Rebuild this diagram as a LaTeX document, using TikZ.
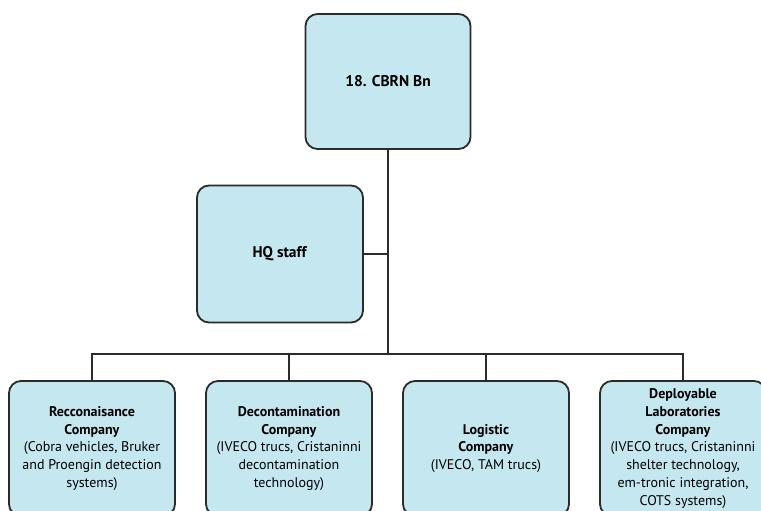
\documentclass[tikz,border=0pt]{standalone}
\usepackage{fontspec}
\setmainfont{PT Sans}
\definecolor{boxfill}{HTML}{C5E7F0}
\definecolor{boxline}{HTML}{2B2B2B}
\begin{document}
\begin{tikzpicture}[x=1pt,y=-1pt,
 box/.style={draw=boxline, line width=1.8pt, fill=boxfill, rounded corners=12pt,
   minimum width=166pt, align=center, inner sep=0pt,
   font=\fontsize{14}{17.7}\selectfont},
 big/.style={font=\fontsize{15.5}{18}\selectfont},
 conn/.style={draw=boxline, line width=2pt}]
\useasboundingbox (0,0) rectangle (761,511);
\fill[white] (0,0) rectangle (761,511);
\clip (0,0) rectangle (761,511);
\node[box, big, minimum width=165pt, minimum height=135pt] (top) at (388,81.5) {\textbf{18. CBRN Bn}};
\node[box, big, minimum width=166pt, minimum height=137pt] (hq) at (280,254) {\textbf{HQ staff}};
\node[box, minimum height=135pt] (rc) at (92,448.5) {\textbf{Recconaisance}\\\textbf{Company}\\(Cobra vehicles, Bruker\\and Proengin detection\\systems)};
\node[box, minimum height=135pt] (dc) at (289,448.5) {\textbf{Decontamination}\\\textbf{Company}\\(IVECO trucs, Cristaninni\\decontamination\\technology)};
\node[box, minimum height=135pt] (lc) at (486,448.5) {\textbf{Logistic}\\\textbf{Company}\\(IVECO, TAM trucs)};
\node[box, minimum height=135pt] (dl) at (683,448.5) {\textbf{Deployable}\\\textbf{Laboratories}\\\textbf{Company}\\(IVECO trucs, Cristaninni\\shelter technology,\\em-tronic integration,\\COTS systems)};
\coordinate (busl) at (92,354);
\coordinate (busr) at (683,354);
\coordinate (bus) at (388,354);
\coordinate (hqj) at (388,254);
\draw[conn] (top.south) -- (bus);
\draw[conn] (hq.east) -- (hqj);
\draw[conn, line cap=rect] (busl) -- (busr);
\draw[conn] (busl) -- (rc.north);
\draw[conn] (dc.north |- bus) -- (dc.north);
\draw[conn] (lc.north |- bus) -- (lc.north);
\draw[conn] (busr) -- (dl.north);
\end{tikzpicture}
\end{document}
